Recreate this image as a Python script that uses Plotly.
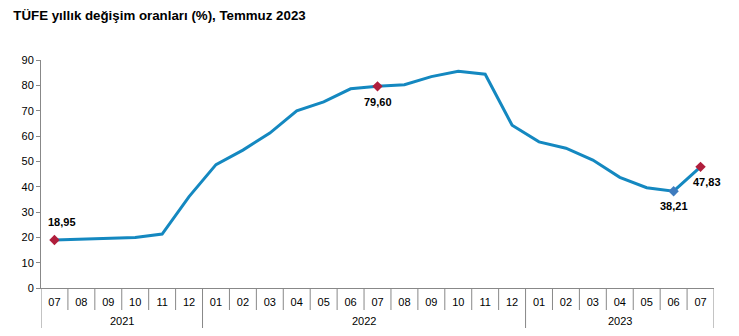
import plotly.graph_objects as go

years = ["2021"] * 6 + ["2022"] * 12 + ["2023"] * 7
months = ["07", "08", "09", "10", "11", "12",
          "01", "02", "03", "04", "05", "06", "07", "08", "09", "10", "11", "12",
          "01", "02", "03", "04", "05", "06", "07"]
values = [18.95, 19.25, 19.58, 19.89, 21.31, 36.08,
          48.69, 54.44, 61.14, 69.97, 73.50, 78.62, 79.60, 80.21, 83.45, 85.51, 84.39, 64.27,
          57.68, 55.18, 50.51, 43.68, 39.59, 38.21, 47.83]

# highlighted points: index, marker colour, label offset (px)
highlights = [(0, "#B01E3C", 8, -18), (12, "#B01E3C", 0, 16), (23, "#3E7BBE", 0, 15), (24, "#B01E3C", 6, 15)]

line_color = "#1488C0"
axis_color = "#888888"
font_family = "Liberation Sans, Arial, sans-serif"

cats = [f"{y}-{m}" for y, m in zip(years, months)]
n = len(cats)
plot_h = 336 - 60 - 48

fig = go.Figure()
fig.add_trace(go.Scatter(
    x=cats, y=values, mode="lines",
    line=dict(color=line_color, width=3), hoverinfo="skip", showlegend=False,
))
fig.add_trace(go.Scatter(
    x=[cats[i] for i, *_ in highlights],
    y=[values[i] for i, *_ in highlights],
    mode="markers",
    marker=dict(symbol="diamond", size=8, color=[c for _, c, *_ in highlights],
                line=dict(width=0)),
    showlegend=False, hoverinfo="skip",
))

for i, c, dx, dy in highlights:
    fig.add_annotation(
        x=i, y=values[i], xref="x", yref="y",
        text="<b>" + f"{values[i]:.2f}".replace(".", ",") + "</b>",
        showarrow=False, xshift=dx, yshift=-dy,
        font=dict(family=font_family, size=11, color="#000000"),
    )

# month separators and year group dividers / labels
for b in range(n + 1):
    is_group = b == 0 or b == n or years[b] != years[b - 1]
    depth = 40 if is_group else 22
    fig.add_shape(type="line", xref="x", yref="paper",
                  x0=b - 0.5, x1=b - 0.5, y0=0, y1=-depth / plot_h,
                  line=dict(color=axis_color, width=1), layer="above")

for yr in dict.fromkeys(years):
    idx = [i for i, y in enumerate(years) if y == yr]
    fig.add_annotation(x=(idx[0] + idx[-1]) / 2, y=0, xref="x", yref="paper",
                       text=yr, showarrow=False, yanchor="middle", yshift=-33,
                       font=dict(family=font_family, size=11, color="#000000"))

fig.update_layout(
    width=739, height=336,
    margin=dict(l=41, r=25, t=60, b=48),
    paper_bgcolor="white", plot_bgcolor="white",
    font=dict(family=font_family, size=11, color="#000000"),
    title=dict(text="<b>TÜFE yıllık değişim oranları (%), Temmuz 2023</b>",
               x=0.018, xanchor="left", y=0.955, yanchor="middle",
               font=dict(family=font_family, size=13.3, color="#000000")),
)
fig.update_xaxes(
    type="category", range=[-0.5, n - 0.5],
    tickvals=cats, ticktext=months,
    showline=True, linecolor=axis_color, linewidth=1,
    ticks="", ticklabelstandoff=4,
    showgrid=False, zeroline=False,
    tickfont=dict(family=font_family, size=11, color="#000000"),
)
fig.update_yaxes(
    range=[0, 90], dtick=10, showline=True, linecolor=axis_color, linewidth=1,
    ticks="outside", ticklen=4, tickcolor=axis_color,
    showgrid=False, zeroline=False,
    tickfont=dict(family=font_family, size=11, color="#000000"),
)

fig.write_html("out.html")
